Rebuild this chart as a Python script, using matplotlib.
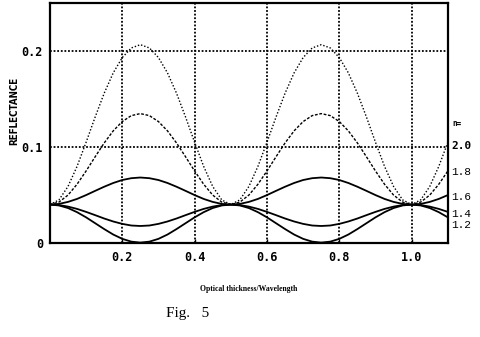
import numpy as np
import matplotlib
matplotlib.use("Agg")
import matplotlib.pyplot as plt

# x positions (optical thickness / wavelength), step 0.025 from 0 to 1.1
x_vals = [round(0.025 * k, 3) for k in range(45)]

r20 = [0.0400, 0.0449, 0.0589, 0.0798, 0.1049, 0.1312, 0.1560, 0.1772, 0.1932, 0.2032, 0.2066,
       0.2032, 0.1932, 0.1772, 0.1560, 0.1312, 0.1049, 0.0798, 0.0589, 0.0449,
       0.0400, 0.0449, 0.0589, 0.0798, 0.1049, 0.1312, 0.1560, 0.1772, 0.1932, 0.2032, 0.2066,
       0.2032, 0.1932, 0.1772, 0.1560, 0.1312, 0.1049, 0.0798, 0.0589, 0.0449,
       0.0400, 0.0449, 0.0589, 0.0798, 0.1049]
r18 = [0.0400, 0.0426, 0.0499, 0.0612, 0.0750, 0.0898, 0.1042, 0.1168, 0.1265, 0.1327, 0.1348,
       0.1327, 0.1265, 0.1168, 0.1042, 0.0898, 0.0750, 0.0612, 0.0499, 0.0426,
       0.0400, 0.0426, 0.0499, 0.0612, 0.0750, 0.0898, 0.1042, 0.1168, 0.1265, 0.1327, 0.1348,
       0.1327, 0.1265, 0.1168, 0.1042, 0.0898, 0.0750, 0.0612, 0.0499, 0.0426,
       0.0400, 0.0426, 0.0499, 0.0612, 0.0750]
r16 = [0.0400, 0.0407, 0.0428, 0.0459, 0.0499, 0.0543, 0.0586, 0.0625, 0.0656, 0.0675, 0.0682,
       0.0675, 0.0656, 0.0625, 0.0586, 0.0543, 0.0499, 0.0459, 0.0428, 0.0407,
       0.0400, 0.0407, 0.0428, 0.0459, 0.0499, 0.0543, 0.0586, 0.0625, 0.0656, 0.0675, 0.0682,
       0.0675, 0.0656, 0.0625, 0.0586, 0.0543, 0.0499, 0.0459, 0.0428, 0.0407,
       0.0400, 0.0407, 0.0428, 0.0459, 0.0499]
r14 = [0.0400, 0.0395, 0.0379, 0.0355, 0.0324, 0.0290, 0.0255, 0.0224, 0.0199, 0.0182, 0.0177,
       0.0182, 0.0199, 0.0224, 0.0255, 0.0290, 0.0324, 0.0355, 0.0379, 0.0395,
       0.0400, 0.0395, 0.0379, 0.0355, 0.0324, 0.0290, 0.0255, 0.0224, 0.0199, 0.0182, 0.0177,
       0.0182, 0.0199, 0.0224, 0.0255, 0.0290, 0.0324, 0.0355, 0.0379, 0.0395,
       0.0400, 0.0395, 0.0379, 0.0355, 0.0324]
r12 = [0.0400, 0.0391, 0.0364, 0.0321, 0.0267, 0.0206, 0.0145, 0.0088, 0.0043, 0.0014, 0.0004,
       0.0014, 0.0043, 0.0088, 0.0145, 0.0206, 0.0267, 0.0321, 0.0364, 0.0391,
       0.0400, 0.0391, 0.0364, 0.0321, 0.0267, 0.0206, 0.0145, 0.0088, 0.0043, 0.0014, 0.0004,
       0.0014, 0.0043, 0.0088, 0.0145, 0.0206, 0.0267, 0.0321, 0.0364, 0.0391,
       0.0400, 0.0391, 0.0364, 0.0321, 0.0267]

x_ticks = [0.2, 0.4, 0.6, 0.8, 1.0]
x_tick_labels = ["0.2", "0.4", "0.6", "0.8", "1.0"]
y_ticks = [0, 0.1, 0.2]
y_tick_labels = ["0", "0.1", "0.2"]
n_labels = ["2.0", "1.8", "1.6", "1.4", "1.2"]
n_label_y = [0.101, 0.074, 0.048, 0.030, 0.019]

fig = plt.figure(figsize=(4.8, 3.37), dpi=100)
ax = fig.add_axes([0.104, 0.279, 0.829, 0.712])

ax.plot(x_vals, r20, color="black", lw=1.0, linestyle=(0, (1, 1.4)))
ax.plot(x_vals, r18, color="black", lw=1.0, linestyle=(0, (2, 1.2)))
ax.plot(x_vals, r16, color="black", lw=1.3)
ax.plot(x_vals, r14, color="black", lw=1.3)
ax.plot(x_vals, r12, color="black", lw=1.3)

ax.set_xlim(0, 1.1)
ax.set_ylim(0, 0.25)
ax.set_xticks(x_ticks)
ax.set_xticklabels(x_tick_labels, fontfamily="DejaVu Sans Mono", fontweight="bold", fontsize=8.5)
ax.set_yticks(y_ticks)
ax.set_yticklabels(y_tick_labels, fontfamily="DejaVu Sans Mono", fontweight="bold", fontsize=8.5)
ax.tick_params(axis="both", direction="in", length=3, width=1.0, pad=6)
ax.tick_params(axis="y", length=0, pad=5)

for xv in x_ticks:
    ax.axvline(xv, color="black", lw=1.3, linestyle=(0, (1, 1)), zorder=0)
for yv in [0.1, 0.2]:
    ax.axhline(yv, color="black", lw=1.3, linestyle=(0, (1, 1)), zorder=0)

for s in ax.spines.values():
    s.set_linewidth(1.6)

ax.set_xlabel("Optical thickness/Wavelength", fontfamily="Liberation Serif",
              fontweight="bold", fontsize=5.5, labelpad=15)

fig.text(0.030, 0.67, "REFLECTANCE", rotation=90, ha="center", va="center",
         fontfamily="DejaVu Sans", fontweight="bold", fontsize=7, fontstretch="condensed")

ax.text(1.113, 0.124, "n=", fontfamily="DejaVu Sans Mono", fontweight="bold",
        fontsize=5.5, va="center", ha="left")
for lbl, yv in zip(n_labels, n_label_y):
    if lbl == "2.0":
        ax.text(1.11, yv, lbl, fontfamily="DejaVu Sans Mono", fontweight="bold",
                fontsize=8, va="center", ha="left")
    else:
        ax.text(1.11, yv, lbl, fontfamily="Liberation Mono",
                fontsize=8, va="center", ha="left")

fig.text(0.345, 0.07, "Fig.   5", fontfamily="Liberation Serif", fontsize=11, ha="left", va="center")

fig.savefig("out.png", dpi=100)
